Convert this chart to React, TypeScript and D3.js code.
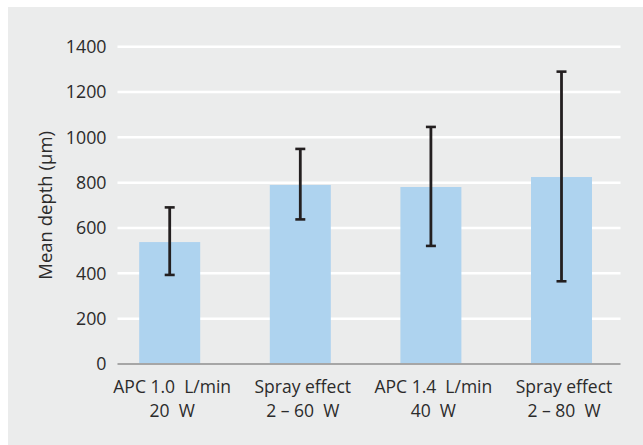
import React from "react";
import * as d3 from "d3";

const categories: string[][] = [
  ["APC 1.0  L/min", "20  W"],
  ["Spray effect", "2 – 60  W"],
  ["APC 1.4  L/min", "40  W"],
  ["Spray effect", "2 – 80  W"],
];
const means = [538, 790, 781, 825];
const errLow = [393, 638, 521, 365];
const errHigh = [691, 949, 1046, 1290];
const yTicks = [0, 200, 400, 600, 800, 1000, 1200, 1400];
const yTitle = "Mean depth (μm)";

const W = 643;
const H = 445;
const FONT = "'Open Sans', sans-serif";
const TEXT = "#2b2b2b";

export default function App() {
  const y = d3.scaleLinear().domain([0, 1400]).range([364, 46.7]);
  const x = d3
    .scaleBand<number>()
    .domain(means.map((_, i) => i))
    .range([104.4, 626.8])
    .paddingInner(0.533)
    .paddingOuter(0.2665);
  const plotL = 117.5;
  const plotR = 620.5;
  const bw = x.bandwidth();

  return (
    <svg
      width={W}
      height={H}
      style={{ position: "absolute", left: 0, top: 0 }}
      fontFamily={FONT}
    >
      <rect x={0} y={0} width={W} height={H} fill="#ffffff" />
      <rect x={8} y={7} width={W - 8} height={H - 7} fill="#ebecec" />
      {yTicks.map((t) => (
        <g key={t}>
          {t !== 0 && (
            <line
              x1={plotL}
              x2={plotR}
              y1={y(t)}
              y2={y(t)}
              stroke="#ffffff"
              strokeWidth={2.5}
            />
          )}
          <text
            x={106.5}
            y={y(t)}
            dy="0.36em"
            textAnchor="end"
            fontSize={17.8}
            fill={TEXT}
          >
            {t}
          </text>
        </g>
      ))}
      {means.map((m, i) => (
        <rect
          key={i}
          x={x(i)!}
          y={y(m)}
          width={bw}
          height={y(0) - y(m)}
          fill="#aed3ef"
        />
      ))}
      <line
        x1={plotL}
        x2={plotR}
        y1={y(0)}
        y2={y(0)}
        stroke="#a6a6a6"
        strokeWidth={2.2}
      />
      {means.map((m, i) => {
        const cx = x(i)! + bw / 2;
        return (
          <g key={i} stroke="#231f20">
            <line x1={cx} x2={cx} y1={y(errHigh[i])} y2={y(errLow[i])} strokeWidth={2.8} />
            <line x1={cx - 5} x2={cx + 5} y1={y(errHigh[i])} y2={y(errHigh[i])} strokeWidth={2.6} />
            <line x1={cx - 5} x2={cx + 5} y1={y(errLow[i])} y2={y(errLow[i])} strokeWidth={2.6} />
          </g>
        );
      })}
      {categories.map((lines, i) => {
        const cx = x(i)! + bw / 2 + 2.5;
        return (
          <text key={i} textAnchor="middle" fontSize={17.5} fill={TEXT} style={{ whiteSpace: "pre" }}>
            {lines.map((l, j) => (
              <tspan key={j} x={cx} y={393 + j * 23.5}>
                {l}
              </tspan>
            ))}
          </text>
        );
      })}
      <text
        transform={`translate(52, ${(y(0) + y(1400)) / 2}) rotate(-90)`}
        textAnchor="middle"
        fontSize={18.5}
        fill={TEXT}
      >
        {yTitle}
      </text>
    </svg>
  );
}
